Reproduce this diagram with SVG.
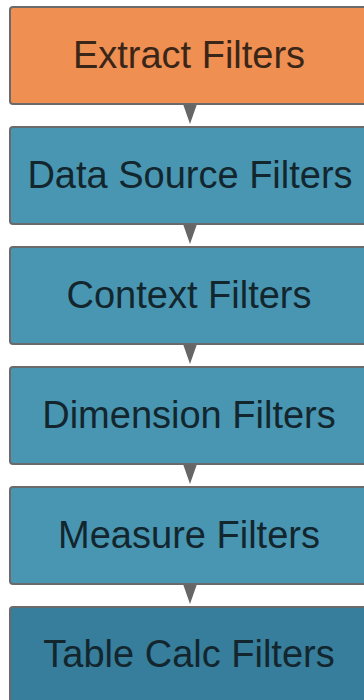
<svg xmlns="http://www.w3.org/2000/svg" width="364" height="700" viewBox="0 0 364 700">
<style>
.box{stroke:#6a6a6a;stroke-width:2}
.orange{fill:#EF8F52}
.blue{fill:#4896B2}
.dark{fill:#367E9C}
.lbl{font-family:"Liberation Sans",Arial,sans-serif;font-size:38px;text-anchor:middle}
.lo{fill:#3a2618}
.lb{fill:#13262e}
.arr{fill:#666666}
</style>
<rect width="364" height="700" fill="#ffffff"/>
<g id="connectors">
<polygon class="arr" points="183,104 197,104 190,124"/>
<polygon class="arr" points="183,224 197,224 190,244"/>
<polygon class="arr" points="183,344 197,344 190,364"/>
<polygon class="arr" points="183,464 197,464 190,484"/>
<polygon class="arr" points="183,584 197,584 190,604"/>
</g>
<g id="extract">
<rect class="box orange" x="10" y="7" width="370" height="97" rx="3"/>
<text class="lbl lo" x="189" y="68">Extract Filters</text>
</g>
<g id="datasource">
<rect class="box blue" x="10" y="127" width="370" height="97" rx="3"/>
<text class="lbl lb" x="190" y="188">Data Source Filters</text>
</g>
<g id="context">
<rect class="box blue" x="10" y="247" width="370" height="97" rx="3"/>
<text class="lbl lb" x="189" y="308">Context Filters</text>
</g>
<g id="dimension">
<rect class="box blue" x="10" y="367" width="370" height="97" rx="3"/>
<text class="lbl lb" x="189" y="428">Dimension Filters</text>
</g>
<g id="measure">
<rect class="box blue" x="10" y="487" width="370" height="97" rx="3"/>
<text class="lbl lb" x="189" y="548">Measure Filters</text>
</g>
<g id="tablecalc">
<rect class="box dark" x="10" y="607" width="370" height="110" rx="3"/>
<text class="lbl lb" x="189" y="667">Table Calc Filters</text>
</g>
</svg>
